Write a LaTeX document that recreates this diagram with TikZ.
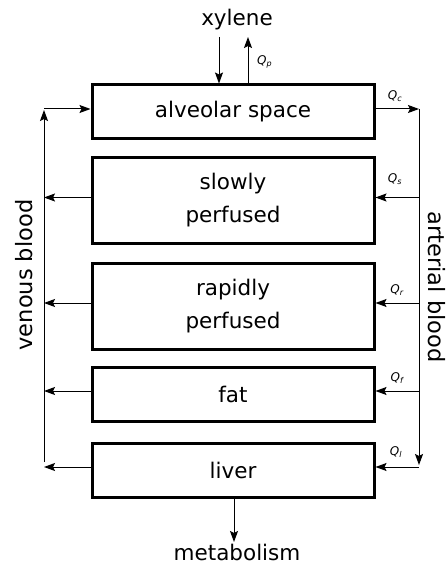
\documentclass[tikz,border=0pt]{standalone}
\usepackage{fontspec}
\setmainfont{DejaVu Sans}
\usetikzlibrary{arrows.meta}
\tikzset{
  organ/.style={draw, line width=3pt, minimum width=282pt, inner sep=0pt, align=center, font=\fontsize{21.5}{33}\selectfont},
  lbl/.style={inner sep=0pt, font=\fontsize{21.5}{25}\selectfont},
  side/.style={inner sep=0pt, font=\fontsize{22.5}{26}\selectfont},
  flow/.style={inner sep=0pt, font=\fontsize{12}{14}\selectfont\itshape},
  arr/.style={line width=1pt, -{Stealth[length=11pt,width=8pt,inset=2pt]}},
  bus/.style={line width=1pt}
}
\begin{document}
\begin{tikzpicture}[x=1pt,y=-1pt]
\useasboundingbox (0,0) rectangle (446,564);
% organ boxes
\node[organ, minimum height=54pt] (alv) at (233,112) {alveolar space};
\node[organ, minimum height=85pt] (slow) at (233,200.5) {slowly\\perfused};
\node[organ, minimum height=86pt] (rapid) at (233,306) {rapidly\\perfused};
\node[organ, minimum height=54pt] (fat) at (233,394) {fat};
\node[organ, minimum height=54pt] (liv) at (233,470) {liver};
% text labels
\node[lbl] (xyl) at (237,20) {xylene};
\node[lbl] (met) at (237,552) {metabolism};
\node[side, rotate=90] (ven) at (24,275) {venous blood};
\node[side, rotate=-90] (art) at (437,287) {arterial blood};
% bus coordinates
\coordinate (vtop) at (44,109);
\coordinate (vbot) at (44,462);
\coordinate (atop) at (419,109);
\coordinate (abot) at (419,465);
\coordinate (xin) at (219,37);
\coordinate (xout) at (248,37);
\coordinate (mout) at (234,542);
% top
\draw[arr] (xin) -- (xin |- alv.north);
\draw[arr] (xout |- alv.north) -- (xout);
\node[flow, anchor=west] (qp) at (257,62) {Q\textsubscript{p}};
% venous side
\draw[arr] (vbot) -- ([yshift=-1pt]vtop);
\draw[arr] (vtop) -- ([yshift=3pt]alv.west);
\draw[arr] ([yshift=3pt]slow.west) -- ([yshift=3pt]slow.west -| vtop);
\draw[arr] ([yshift=3pt]rapid.west) -- ([yshift=3pt]rapid.west -| vtop);
\draw[arr] ([yshift=3pt]fat.west) -- ([yshift=3pt]fat.west -| vtop);
\draw[arr] ([yshift=3pt]liv.west) -- ([yshift=3pt]liv.west -| vtop);
% arterial side
\draw[arr] ([yshift=3pt]alv.east) -- (atop);
\draw[arr] (atop) -- (abot);
\draw[arr] ([yshift=3pt]slow.west -| atop) -- ([yshift=3pt]slow.east);
\draw[arr] ([yshift=3pt]rapid.west -| atop) -- ([yshift=3pt]rapid.east);
\draw[arr] ([yshift=3pt]fat.west -| atop) -- ([yshift=3pt]fat.east);
\draw[arr] ([yshift=3pt]liv.west -| atop) -- ([yshift=3pt]liv.east);
% flow labels
\node[flow] (qc) at (395,96) {Q\textsubscript{c}};
\node[flow] (qs) at (395,179) {Q\textsubscript{s}};
\node[flow] (qr) at (397,290) {Q\textsubscript{r}};
\node[flow] (qf) at (397,378) {Q\textsubscript{f}};
\node[flow] (ql) at (396,452) {Q\textsubscript{l}};
% metabolism
\draw[arr] (liv.south -| mout) -- (mout);
\end{tikzpicture}
\end{document}
